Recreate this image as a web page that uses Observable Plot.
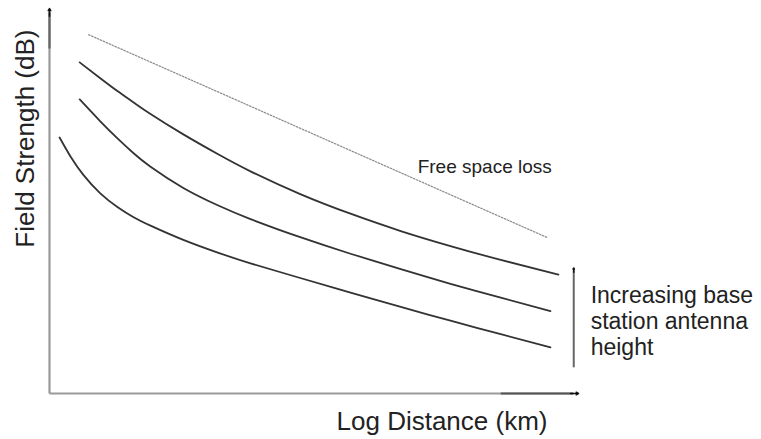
<!DOCTYPE html>
<html>
<head>
<meta charset="utf-8">
<script src="https://cdn.jsdelivr.net/npm/d3@7"></script>
<script src="https://cdn.jsdelivr.net/npm/@observablehq/plot@0.6"></script>
<style>
  html, body { margin: 0; padding: 0; background: #fff; }
  #chart svg { display: block; }
  #chart svg, #chart svg text { font-family: "Liberation Sans", Arial, Helvetica, sans-serif !important; }
</style>
</head>
<body>
<div id="chart"></div>
<script>
// Arbitrary units (0-100): x = log distance, y = field strength
const highX = [5.7, 9.6, 12.9, 15.9, 19.1, 25.3, 31.8, 38.0, 47.4, 56.9, 66.4, 75.8, 85.3, 96.2];
const highY = [86.0, 81.9, 78.5, 75.6, 72.6, 67.3, 62.2, 57.7, 51.8, 46.7, 42.2, 38.3, 34.7, 30.9];

const midX = [5.7, 9.6, 12.9, 15.9, 19.1, 25.3, 31.8, 38.0, 47.4, 56.9, 66.4, 75.8, 85.3, 94.7];
const midY = [76.4, 70.7, 66.2, 62.4, 58.9, 53.4, 48.9, 45.3, 40.6, 36.3, 32.3, 28.5, 24.9, 21.4];

const lowX = [1.9, 4.0, 6.4, 9.6, 12.9, 15.9, 19.1, 25.3, 31.8, 38.0, 47.4, 56.9, 66.4, 75.8, 85.3, 94.7];
const lowY = [66.5, 61.5, 56.8, 52.0, 48.4, 45.8, 43.6, 39.9, 36.6, 33.8, 30.0, 26.2, 22.5, 18.9, 15.4, 12.0];

const freeX = [7.4, 94.1];
const freeY = [93.2, 40.5];

const xLabel = "Log Distance (km)";
const yLabel = "Field Strength (dB)";
const freeLabel = "Free space loss";
const heightLabel = "Increasing base\nstation antenna\nheight";

const toPts = (xs, ys) => xs.map((x, i) => ({x, y: ys[i]}));
const curves = [toPts(highX, highY), toPts(midX, midY), toPts(lowX, lowY)];

const chart = Plot.plot({
  width: 761,
  height: 439,
  marginLeft: 49,
  marginRight: 183,
  marginTop: 8,
  marginBottom: 46,
  x: {domain: [0, 100], axis: null},
  y: {domain: [0, 100], axis: null},
  style: {fontFamily: "Liberation Sans, Arial, sans-serif", background: "#fff", overflow: "visible"},
  marks: [
    // axes
    Plot.link([0], {x1: 0, y1: 0, x2: 0, y2: 99, stroke: "#9a9a9a", strokeWidth: 2.2}),
    Plot.link([0], {x1: 0, y1: 89.6, x2: 0, y2: 99, stroke: "#666", strokeWidth: 2.2}),
    Plot.arrow([0], {x1: 0, y1: 98, x2: 0, y2: 100, stroke: "#111", strokeWidth: 1.5, headLength: 5}),
    Plot.link([0], {x1: 0, y1: 0, x2: 99, y2: 0, stroke: "#9a9a9a", strokeWidth: 2.2}),
    Plot.link([0], {x1: 85.3, y1: 0, x2: 99, y2: 0, stroke: "#555", strokeWidth: 2.2}),
    Plot.arrow([0], {x1: 98.5, y1: 0, x2: 100, y2: 0, stroke: "#111", strokeWidth: 1.5, headLength: 5}),
    // free space loss
    Plot.line(toPts(freeX, freeY), {x: "x", y: "y", stroke: "#8a8a8a", strokeWidth: 1.2, strokeDasharray: "1.6,1.6"}),
    // curves
    ...curves.map(c => Plot.line(c, {x: "x", y: "y", curve: "natural", stroke: "#333", strokeWidth: 1.8})),
    // increasing height arrow
    Plot.link([0], {x1: 99.1, y1: 6.8, x2: 99.1, y2: 32.0, stroke: "#666", strokeWidth: 2}),
    Plot.arrow([0], {x1: 99.1, y1: 31.5, x2: 99.1, y2: 32.6, stroke: "#111", strokeWidth: 1.5, headLength: 4}),
    // labels
    Plot.text([freeLabel], {x: 69.6, y: 57.4, text: d => d, textAnchor: "start", lineAnchor: "bottom", fontSize: 19, fill: "#222"}),
    Plot.text([heightLabel], {x: 102.3, y: 28.4, text: d => d, textAnchor: "start", lineAnchor: "top", fontSize: 23, lineHeight: 1.13, fill: "#222"}),
    Plot.text([xLabel], {x: 74.2, y: -9.6, text: d => d, textAnchor: "middle", lineAnchor: "bottom", fontSize: 26, fill: "#222"}),
    Plot.text([yLabel], {x: -4.5, y: 66.2, text: d => d, rotate: -90, textAnchor: "middle", lineAnchor: "middle", fontSize: 26, fill: "#222"})
  ]
});
document.getElementById("chart").appendChild(chart);
</script>
</body>
</html>
